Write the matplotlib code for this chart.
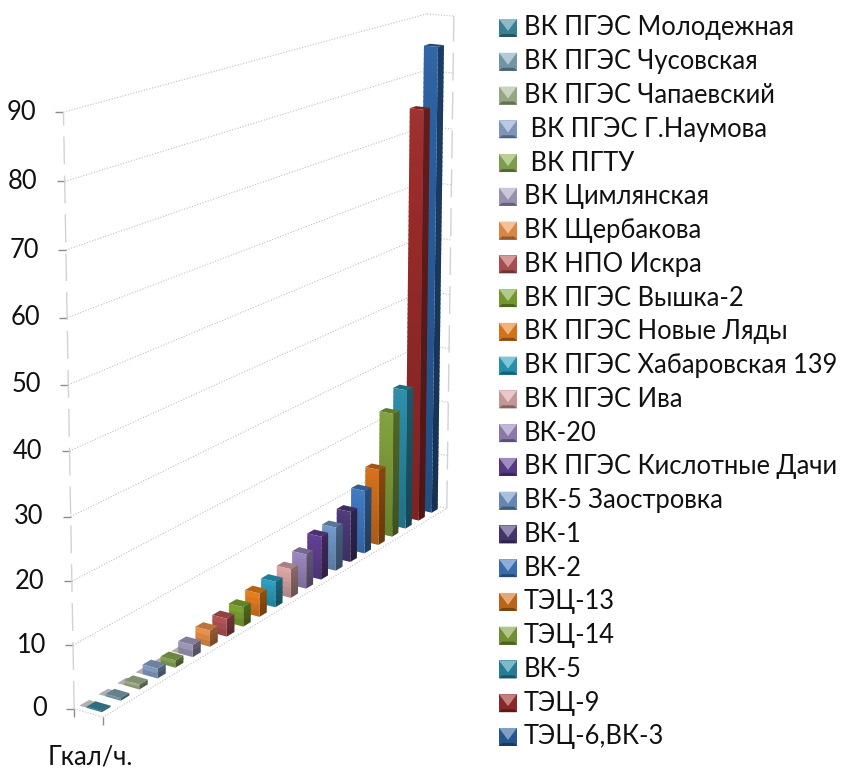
import numpy as np
import matplotlib
matplotlib.use("Agg")
import matplotlib.pyplot as plt
from matplotlib.patches import Polygon
from matplotlib.colors import to_rgb

plt.rcParams['font.family'] = ['Lato', 'Open Sans', 'DejaVu Sans']

series_names = ["ВК ПГЭС Молодежная", "ВК ПГЭС Чусовская", "ВК ПГЭС Чапаевский", " ВК ПГЭС Г.Наумова",
                " ВК ПГТУ", "ВК Цимлянская", "ВК Щербакова", "ВК НПО Искра", "ВК ПГЭС Вышка-2",
                "ВК ПГЭС Новые Ляды", "ВК ПГЭС Хабаровская 139", "ВК ПГЭС Ива", "ВК-20",
                "ВК ПГЭС Кислотные Дачи", "ВК-5 Заостровка", "ВК-1", "ВК-2", "ТЭЦ-13", "ТЭЦ-14",
                "ВК-5", "ТЭЦ-9", "ТЭЦ-6,ВК-3"]
values = [0.2, 0.4, 0.8, 1.6, 1.2, 2.0, 2.7, 3.0, 3.3, 4.0, 4.4, 5.0, 6.0, 7.6, 7.7, 9.0, 11.3, 13.7, 22.5,
          25.5, 74.7, 85.0]
colors = ["#3F8CA3", "#7FA6B6", "#A5B890", "#8CA6CE", "#8CAD55", "#A8A0C2", "#F0954F", "#B95558", "#7FA832",
          "#E8801E", "#2AA0BF", "#D9A5A5", "#9A85BC", "#5F3F90", "#6F96C6", "#4B3A78", "#3F78C0", "#D06F1A",
          "#7E9E3A", "#2A8AA5", "#9A2B2A", "#2A5F9E"]
y_ticks = [0, 10, 20, 30, 40, 50, 60, 70, 80, 90]
category_label = "Гкал/ч."

# camera calibration: world (slot, width, value) -> pixel
world = np.array([(0, 0, 0), (22, 0, 0), (0, 1, 0), (22, 1, 0), (0, 0, 90), (22, 0, 90), (22, 1, 90), (0, 1, 90)], float)
pix = np.array([(74, 709), (421, 503), (103, 717), (447, 508), (64, 110), (427, 15), (454, 15), (93, 118)], float)
A, b = [], []
for (X, Y, Z), (u, v) in zip(world, pix):
    A.append([X, Y, Z, 1, 0, 0, 0, 0, -u*X, -u*Y, -u*Z]); b.append(u)
    A.append([0, 0, 0, 0, X, Y, Z, 1, -v*X, -v*Y, -v*Z]); b.append(v)
P = np.linalg.lstsq(np.array(A), np.array(b), rcond=None)[0]
P = np.append(P, 1).reshape(3, 4)


def proj(X, Y, Z):
    h = P @ np.array([X, Y, Z, 1.0])
    return h[0]/h[2], h[1]/h[2]


def shade(c, f):
    c = np.array(to_rgb(c))
    return tuple(np.clip(c*f, 0, 1)) if f <= 1 else tuple(c + (1-c)*(f-1))


fig = plt.figure(figsize=(8.43, 7.68), dpi=100)
ax = fig.add_axes([0, 0, 1, 1])
ax.set_xlim(0, 843)
ax.set_ylim(768, 0)
ax.axis('off')

FS = 18.4


def seg(p, q, **kw):
    ax.plot([p[0], q[0]], [p[1], q[1]], solid_capstyle='butt', **kw)


dotted = dict(color="#c0c0c0", lw=0.8, ls=(0, (1, 1.5)))
dashed = dict(color="#d2d2d2", lw=1.0, ls=(0, (20, 8)))

for z in y_ticks:
    if z > 0:
        seg(proj(0, 0, z), proj(22, 0, z), **dotted)
    seg(proj(22, 0, z), proj(22, 1, z), **dotted)
    p = proj(0, 0, z)
    seg((p[0]-8, p[1]), p, color="#8c8c8c", lw=1.0)
    ax.text(p[0]-27, p[1], str(z), ha='right', va='center', fontsize=FS, color="#111111")
seg(proj(0, 0, 0), proj(0, 0, 90), **dashed)
seg(proj(22, 1, 0), proj(22, 1, 90), **dashed)
seg(proj(0, 0, 0), proj(0, 1, 0), **dotted)
seg(proj(0, 1, 0), proj(22, 1, 0), **dotted)
for Y in (0, 1):
    p = proj(0, Y, 0)
    seg(p, (p[0], p[1]+8), color="#8c8c8c", lw=1.0)

ax.text(90, 757, category_label, ha='center', va='center', fontsize=FS, color="#111111")

X0, X1, Y0, Y1 = 0.27, 0.73, 0.26, 0.78
for i in range(len(values))[::-1]:
    v, c = values[i], colors[i]
    x0, x1 = i + X0, i + X1
    z = 3 + (22 - i)
    if i <= 5:
        g0 = [proj(x0, 0, 0), proj(x0, Y0, 0), proj(x0+0.5, Y0, 0), proj(x0+0.5, 0, 0)]
        ax.add_patch(Polygon(g0, closed=True, fc="#b0b0b0", ec='none', zorder=z))
    n = max(2, int(v*1.2))
    zs = np.linspace(0, v, n+1)
    dz = 0.22
    for k in range(n):
        f = 0.82 + 0.22*zs[k]/v
        hi = min(zs[k+1]+dz, v)
        pts = [proj(x1, Y1, zs[k]), proj(x0, Y1, zs[k]), proj(x0, Y1, hi), proj(x1, Y1, hi)]
        ax.add_patch(Polygon(pts, closed=True, fc=shade(c, f*0.62), ec='none', zorder=z))
    top = [proj(x0, Y0, v), proj(x0, Y1, v), proj(x1, Y1, v), proj(x1, Y0, v)]
    ax.add_patch(Polygon(top, closed=True, fc=shade(c, 0.78), ec='none', zorder=z))
    for k in range(n):
        f = 0.82 + 0.22*zs[k]/v
        hi = min(zs[k+1]+dz, v)
        pts = [proj(x0, Y0, zs[k]), proj(x0, Y1, zs[k]), proj(x0, Y1, hi), proj(x0, Y0, hi)]
        ax.add_patch(Polygon(pts, closed=True, fc=shade(c, f), ec='none', zorder=z))

# legend, newest series at the bottom
row0, rowh = 28.0, 33.76
ix0, ix1 = 499, 517
for r, (name, c) in enumerate(zip(series_names, colors)):
    y = row0 + r*rowh
    t, bt = y-9, y+9
    m = (ix0+ix1)/2
    b_ = 3
    ax.add_patch(Polygon([(ix0, t), (ix1, t), (ix1, bt), (ix0, bt)], closed=True, fc=shade(c, 0.9), ec='none', zorder=30))
    ax.add_patch(Polygon([(ix0, bt), (ix1, bt), (ix1-b_, bt-b_), (ix0+b_, bt-b_)], closed=True, fc=shade(c, 0.6), ec='none', zorder=31))
    ax.add_patch(Polygon([(ix0, t), (ix1, t), (m, y+3)], closed=True, fc=shade(c, 1.4), ec='none', zorder=31))
    ax.text(524, y, name, ha='left', va='center', fontsize=FS, color="#111111", zorder=32)

fig.savefig("out.png", dpi=100)
